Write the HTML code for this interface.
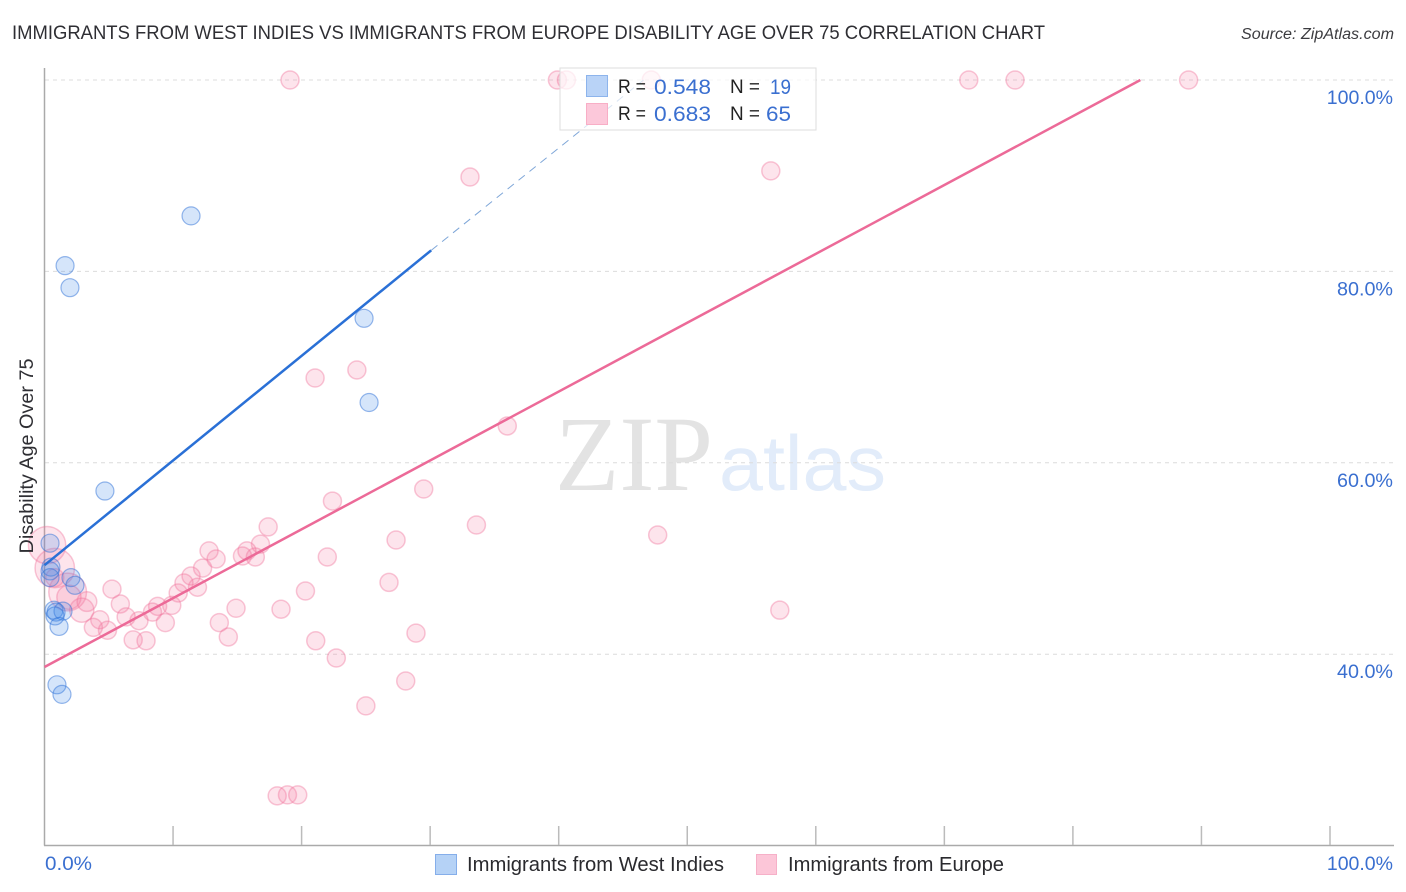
<!DOCTYPE html>
<html lang="en">
<head>
<meta charset="utf-8">
<title>Immigrants from West Indies vs Immigrants from Europe Disability Age Over 75 Correlation Chart</title>
<style>
html,body{margin:0;padding:0;background:#fff;}
svg{display:block;font-family:"Liberation Sans",sans-serif;}
</style>
</head>
<body>
<svg id="chart" xmlns="http://www.w3.org/2000/svg" width="1406" height="892" viewBox="0 0 1406 892">
  <rect x="0" y="0" width="1406" height="892" fill="#ffffff"/>
  <text x="12" y="39" font-size="19" fill="#2e2e33" textLength="1033" lengthAdjust="spacingAndGlyphs">IMMIGRANTS FROM WEST INDIES VS IMMIGRANTS FROM EUROPE DISABILITY AGE OVER 75 CORRELATION CHART</text>
  <text x="1241" y="39" font-size="15.5" font-style="italic" fill="#3c3c40" textLength="153" lengthAdjust="spacingAndGlyphs">Source: ZipAtlas.com</text>
  <text x="555" y="490" font-size="107" fill="#e3e3e3" style="font-family:'Liberation Serif',serif" textLength="158" lengthAdjust="spacingAndGlyphs">ZIP</text>
  <text x="719" y="490" font-size="78" fill="#e2ecfa" textLength="167" lengthAdjust="spacingAndGlyphs">atlas</text>
  <g id="grid"></g>
  <g id="axes"></g>
  <g id="pink-points"></g>
  <g id="blue-points"></g>
  <g id="trends"></g>
  <g id="tick-labels"></g>
  <text transform="translate(33,456) rotate(-90)" font-size="19" fill="#2e2e33" text-anchor="middle" textLength="195" lengthAdjust="spacingAndGlyphs">Disability Age Over 75</text>

  <g>
    <rect x="560" y="68" width="256" height="62" fill="#ffffff" fill-opacity="0.72" stroke="#dddddd" stroke-width="1"/>
    <rect x="586.5" y="75.5" width="21" height="21" fill="#b9d3f7" stroke="#8db4ec"/>
    <rect x="586.5" y="103.5" width="21" height="21" fill="#fcc8da" stroke="#f8aec6"/>
    <text x="618" y="93" font-size="19" fill="#222" textLength="28" lengthAdjust="spacingAndGlyphs">R =</text>
    <text x="654" y="94" font-size="21.5" fill="#3a6fd0" textLength="57" lengthAdjust="spacingAndGlyphs">0.548</text>
    <text x="730" y="93" font-size="19" fill="#222" textLength="30" lengthAdjust="spacingAndGlyphs">N =</text>
    <text x="770" y="94" font-size="21.5" fill="#3a6fd0" textLength="21" lengthAdjust="spacingAndGlyphs">19</text>
    <text x="618" y="120" font-size="19" fill="#222" textLength="28" lengthAdjust="spacingAndGlyphs">R =</text>
    <text x="654" y="121" font-size="21.5" fill="#3a6fd0" textLength="57" lengthAdjust="spacingAndGlyphs">0.683</text>
    <text x="730" y="120" font-size="19" fill="#222" textLength="30" lengthAdjust="spacingAndGlyphs">N =</text>
    <text x="766" y="121" font-size="21.5" fill="#3a6fd0" textLength="25" lengthAdjust="spacingAndGlyphs">65</text>
  </g>

  <g>
    <rect x="435.5" y="854.5" width="21" height="20" fill="#b5d2f6" stroke="#85aeea"/>
    <text x="467" y="871" font-size="20" fill="#2a2a2e" textLength="257" lengthAdjust="spacingAndGlyphs">Immigrants from West Indies</text>
    <rect x="756.5" y="854.5" width="20" height="20" fill="#fcc6d8" stroke="#f6b0c8"/>
    <text x="788" y="871" font-size="20" fill="#2a2a2e" textLength="216" lengthAdjust="spacingAndGlyphs">Immigrants from Europe</text>
  </g>
</svg>
<script>
var yTickValues = [100, 80, 60, 40];
var yTickLabels = ["100.0%", "80.0%", "60.0%", "40.0%"];
var xTickValues = [0, 10, 20, 30, 40, 50, 60, 70, 80, 90, 100];
var xEndLabels = ["0.0%", "100.0%"];

var blueX = [11.4, 1.6, 1.98, 24.86, 25.25, 4.7, 0.43, 0.5, 0.43, 0.43, 2.06, 2.37, 0.74, 0.9, 1.44, 0.82, 1.13, 0.97, 1.36];
var blueY = [85.8, 80.6, 78.3, 75.1, 66.3, 57.05, 51.6, 49.1, 48.7, 48.0, 48.0, 47.2, 44.6, 44.4, 44.5, 44.0, 42.9, 36.8, 35.8];

var pinkX = [19.1, 39.9, 40.6, 47.2, 71.9, 75.5, 89.0, 33.1, 56.5, 21.05, 24.3, 36.0, 22.4, 29.5, 33.6, 47.7, 17.4, 27.35, 16.8, 22.0,
             12.8, 15.75, 15.4, 16.4, 13.35, 12.3, 11.4, 10.85, 11.9, 10.4, 5.25, 26.8, 20.3, 9.9, 8.8, 8.4, 5.9, 14.9, 18.4, 57.2,
             13.6, 9.4, 7.35, 6.35, 4.3, 3.8, 4.9, 14.3, 21.1, 6.9, 7.9, 28.9, 22.7, 28.1, 25.0, 18.1, 18.9, 19.7,
             0.2, 0.8, 1.8, 1.9, 2.9, 3.3, 0.8];
var pinkY = [100, 100, 100, 100, 100, 100, 100, 89.86, 90.5, 68.86, 69.7, 63.85, 56.0, 57.26, 53.5, 52.46, 53.3, 51.93, 51.5, 50.16,
             50.8, 50.8, 50.26, 50.16, 49.95, 49.0, 48.17, 47.44, 47.0, 46.4, 46.8, 47.5, 46.6, 45.1, 45.0, 44.4, 45.25, 44.8, 44.7, 44.6,
             43.3, 43.3, 43.5, 43.9, 43.6, 42.8, 42.5, 41.8, 41.4, 41.5, 41.4, 42.2, 39.6, 37.2, 34.6, 25.2, 25.3, 25.3,
             51.4, 49.0, 46.5, 45.95, 44.6, 45.5, 48.0];
var pinkPop = [1, 1, 1, 1, 1, 1, 1, 1, 1, 1, 1, 1, 1, 1, 1, 1, 1, 1, 1, 1,
               1, 1, 1, 1, 1, 1, 1, 1, 1, 1, 1, 1, 1, 1, 1, 1, 1, 1, 1, 1,
               1, 1, 1, 1, 1, 1, 1, 1, 1, 1, 1, 1, 1, 1, 1, 1, 1, 1,
               4.3, 4.8, 4.4, 1.8, 1.8, 1.2, 1];

var blueTrendX = [0, 30.08];
var blueTrendY = [49.3, 82.2];
var blueDashX = [30.08, 46.6];
var blueDashY = [82.2, 100];
var pinkTrendX = [0, 85.25];
var pinkTrendY = [38.66, 100];

function xScale(v) { return 44.5 + 12.855 * v; }
function yScale(v) { return 80 + (100 - v) * 9.57; }
function rScale(p) { return 9 * Math.sqrt(p); }

var NS = "http://www.w3.org/2000/svg";
function make(tag, parentId, attrs) {
  var el = document.createElementNS(NS, tag);
  for (var k in attrs) { el.setAttribute(k, attrs[k]); }
  document.getElementById(parentId).appendChild(el);
  return el;
}

yTickValues.forEach(function (v, i) {
  var line = make("line", "grid", { x1: 45, x2: 1394, y1: yScale(v), y2: yScale(v), stroke: "#dcdcdc", "stroke-width": 1, "stroke-dasharray": "4 4" });
  
  
  var label = make("text", "tick-labels", { x: 1393, y: yScale(v) + 24, "font-size": 19.5, fill: "#3a6fd0", "text-anchor": "end", textLength: yTickLabels[i].length * 10.2 + 5, lengthAdjust: "spacingAndGlyphs" });
  label.textContent = yTickLabels[i];
  
  
});

var yAxis = make("line", "axes", { x1: 44.5, x2: 44.5, y1: 68, y2: 845.5, stroke: "#aaaaaa", "stroke-width": 1.5 });


var xAxis = make("line", "axes", { x1: 44, x2: 1394, y1: 845.5, y2: 845.5, stroke: "#aaaaaa", "stroke-width": 1.5 });



xTickValues.forEach(function (v) {
  if (v === 0) { return; }
  var tick = make("line", "axes", { x1: xScale(v), x2: xScale(v), y1: 826, y2: 845, stroke: "#bbbbbb", "stroke-width": 1.5 });
  
  
});

var xStart = make("text", "tick-labels", { x: 45, y: 870, "font-size": 19.5, fill: "#3a6fd0", textLength: 47, lengthAdjust: "spacingAndGlyphs" });
xStart.textContent = xEndLabels[0];


var xEnd = make("text", "tick-labels", { x: 1393, y: 870, "font-size": 19.5, fill: "#3a6fd0", "text-anchor": "end" });
xEnd.textContent = xEndLabels[1];



pinkX.forEach(function (v, i) {
  var c = make("circle", "pink-points", { cx: xScale(v), cy: yScale(pinkY[i]), r: rScale(pinkPop[i]), fill: "#f4789f", "fill-opacity": 0.2, stroke: "#f0749c", "stroke-opacity": 0.4, "stroke-width": 1.5 });
  
  
});

blueX.forEach(function (v, i) {
  var c = make("circle", "blue-points", { cx: xScale(v), cy: yScale(blueY[i]), r: 9, fill: "#3f87e8", "fill-opacity": 0.22, stroke: "#2f72d8", "stroke-opacity": 0.5, "stroke-width": 1.2 });
  
  
});

var bt = make("line", "trends", { x1: xScale(blueTrendX[0]), y1: yScale(blueTrendY[0]), x2: xScale(blueTrendX[1]), y2: yScale(blueTrendY[1]), stroke: "#2a70d6", "stroke-width": 2.5 });


var bd = make("line", "trends", { x1: xScale(blueDashX[0]), y1: yScale(blueDashY[0]), x2: xScale(blueDashX[1]), y2: yScale(blueDashY[1]), stroke: "#7ea6d8", "stroke-width": 1, "stroke-dasharray": "8 6" });


var pt = make("line", "trends", { x1: xScale(pinkTrendX[0]), y1: yScale(pinkTrendY[0]), x2: xScale(pinkTrendX[1]), y2: yScale(pinkTrendY[1]), stroke: "#ec6a98", "stroke-width": 2.5 });


</script>
</body>
</html>
